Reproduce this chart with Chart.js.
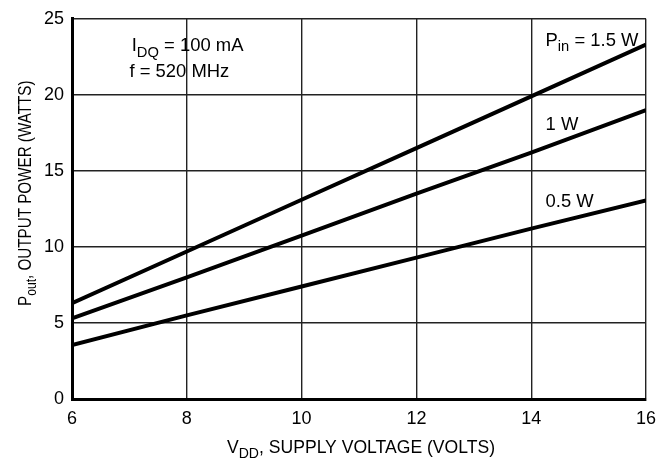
<!DOCTYPE html>
<html>
<head>
<meta charset="utf-8">
<script src="https://cdn.jsdelivr.net/npm/chart.js@4"></script>
<style>
  html, body { margin: 0; padding: 0; background: #fff; }
  #wrap { width: 670px; height: 463px; }
</style>
</head>
<body>
<div id="wrap"><canvas id="chart" width="670" height="463"></canvas></div>
<script>
// supply voltage (V)
const vdd = [6, 8, 10, 12, 14, 16];
// output power (W) for each input power
const pout15 = [6.3, 9.7, 13.1, 16.5, 19.9, 23.3];
const pout10 = [5.3, 8.0, 10.75, 13.5, 16.2, 19.0];
const pout05 = [3.55, 5.5, 7.4, 9.3, 11.2, 13.05];
const xTicks = [6, 8, 10, 12, 14, 16];
const yTicks = [0, 5, 10, 15, 20, 25];

const FONT = '"Liberation Sans", Arial, sans-serif';

const toPoints = (ys) => vdd.map((v, i) => ({ x: v, y: ys[i] }));

// draws text made of normal + subscript pieces
const drawRich = (ctx, parts, x, y, size, sx) => {
    ctx.save();
    ctx.translate(x, y);
    ctx.scale(sx, 1);
    let cx = 0;
    parts.forEach(p => {
        const fs = p.sub ? size * 0.8 : size;
        ctx.font = `${fs}px ${FONT}`;
        ctx.fillText(p.t, cx, p.sub ? size * 0.28 : 0);
        cx += ctx.measureText(p.t).width;
    });
    ctx.restore();
};

const labelsPlugin = {
    id: 'labels',
    afterDraw(chart) {
        const { ctx, scales: { x, y } } = chart;
        ctx.fillStyle = '#000';
        ctx.textBaseline = 'alphabetic';
        ctx.textAlign = 'left';

        // notes inside plot
        drawRich(ctx, [{ t: 'I' }, { t: 'DQ', sub: true }, { t: ' = 100 mA' }], x.getPixelForValue(7.04), y.getPixelForValue(22.85), 19, 0.97);
        drawRich(ctx, [{ t: 'f = 520 MHz' }], x.getPixelForValue(7.0), y.getPixelForValue(21.2), 19, 0.97);
        drawRich(ctx, [{ t: 'P' }, { t: 'in', sub: true }, { t: ' = 1.5 W' }], x.getPixelForValue(14.25), y.getPixelForValue(23.2), 19, 0.97);
        drawRich(ctx, [{ t: '1 W' }], x.getPixelForValue(14.25), y.getPixelForValue(17.67), 19, 0.97);
        drawRich(ctx, [{ t: '0.5 W' }], x.getPixelForValue(14.25), y.getPixelForValue(12.65), 19, 0.97);

        // axis titles
        drawRich(ctx, [{ t: 'V' }, { t: 'DD', sub: true }, { t: ', SUPPLY VOLTAGE (VOLTS)' }], 227, 453, 19, 0.925);
        ctx.save();
        ctx.translate(31, 306);
        ctx.rotate(-Math.PI / 2);
        drawRich(ctx, [{ t: 'P' }, { t: 'out', sub: true }, { t: ', OUTPUT POWER (WATTS)' }], 0, 0, 19, 0.8);
        ctx.restore();
    }
};

const lineSet = (label, ys) => ({
    label,
    data: toPoints(ys),
    borderColor: '#000',
    borderWidth: 4,
    pointRadius: 0,
    fill: false,
    tension: 0
});

new Chart(document.getElementById('chart'), {
    type: 'line',
    data: {
        datasets: [
            lineSet('1.5 W', pout15),
            lineSet('1 W', pout10),
            lineSet('0.5 W', pout05)
        ]
    },
    options: {
        responsive: false,
        animation: false,
        layout: { padding: { top: 16, right: 24, left: 0, bottom: 0 } },
        plugins: { legend: { display: false }, tooltip: { enabled: false } },
        scales: {
            x: {
                type: 'linear',
                min: 6, max: 16,
                afterBuildTicks: (s) => { s.ticks = xTicks.map(v => ({ value: v })); },
                afterFit: (s) => { s.height = 64; },
                grid: { color: '#222', lineWidth: 1.4, drawTicks: false },
                border: { color: '#000', width: 3 },
                ticks: { color: '#000', font: { size: 18, family: FONT }, padding: 9, maxRotation: 0 }
            },
            y: {
                type: 'linear',
                min: 0, max: 25,
                afterBuildTicks: (s) => { s.ticks = yTicks.map(v => ({ value: v })); },
                afterFit: (s) => { s.width = 72; },
                grid: { color: '#222', lineWidth: 1.4, drawTicks: false },
                border: { color: '#000', width: 3 },
                ticks: { color: '#000', font: { size: 18, family: FONT }, padding: 8 }
            }
        }
    },
    plugins: [labelsPlugin]
});
</script>
</body>
</html>
